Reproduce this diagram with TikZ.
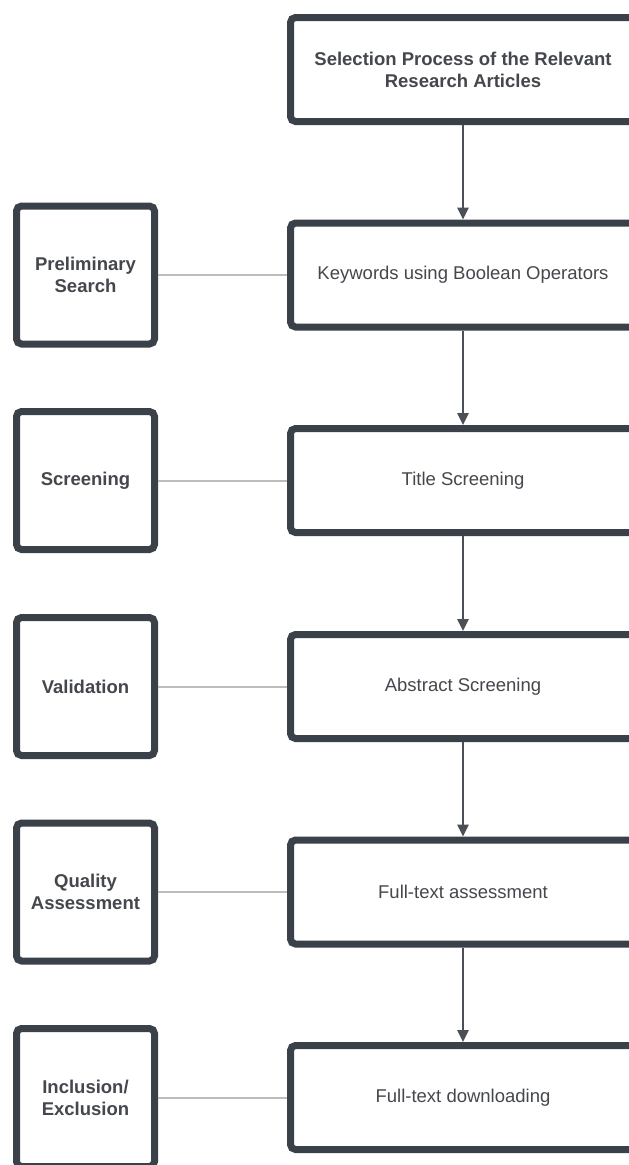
\documentclass[tikz,border=0pt]{standalone}
\usepackage{fontspec}
\setmainfont{Liberation Sans}
\usetikzlibrary{arrows.meta}
\definecolor{boxc}{HTML}{3A4149}
\definecolor{txtc}{HTML}{44474C}
\definecolor{linkc}{HTML}{BDBDBD}
\definecolor{flowc}{HTML}{4B5058}
\begin{document}
\begin{tikzpicture}[x=1pt,y=-1pt,
  base/.style={draw=boxc, line width=7pt, rounded corners=5pt, fill=white,
    text=txtc, align=center, inner sep=0pt,
    font=\fontsize{18.5}{22}\selectfont},
  rbox/.style={base, minimum width=345pt, minimum height=104pt},
  lbox/.style={base, minimum width=138pt, minimum height=138pt, font=\fontsize{18.5}{22}\selectfont\bfseries},
  link/.style={draw=linkc, line width=2pt},
  flow/.style={draw=flowc, line width=2.5pt, -{Triangle[width=11pt,length=12pt]}}]
\useasboundingbox (0,0) rectangle (629,1165);
\clip (0,0) rectangle (629,1165);
\node[rbox, font=\fontsize{18.5}{22}\selectfont\bfseries] (r0) at (463,69.5) {Selection Process of the Relevant\\Research Articles};
\node[rbox] (r1) at (463,275) {Keywords using Boolean Operators};
\node[rbox] (r2) at (463,480.5) {Title Screening};
\node[rbox] (r3) at (463,686.5) {Abstract Screening};
\node[rbox] (r4) at (463,892) {Full-text assessment};
\node[rbox] (r5) at (463,1097.5) {Full-text downloading};
\node[lbox] (l1) at (85.5,275) {Preliminary\\Search};
\node[lbox] (l2) at (85.5,480.5) {Screening};
\node[lbox] (l3) at (85.5,686.5) {Validation};
\node[lbox] (l4) at (85.5,892) {Quality\\Assessment};
\node[lbox] (l5) at (85.5,1097.5) {Inclusion/\\Exclusion};
\foreach \i in {1,...,5} { \draw[link] (l\i) -- (r\i); }
\draw[flow] (r0) -- (r1);
\draw[flow] (r1) -- (r2);
\draw[flow] (r2) -- (r3);
\draw[flow] (r3) -- (r4);
\draw[flow] (r4) -- (r5);
\end{tikzpicture}
\end{document}
